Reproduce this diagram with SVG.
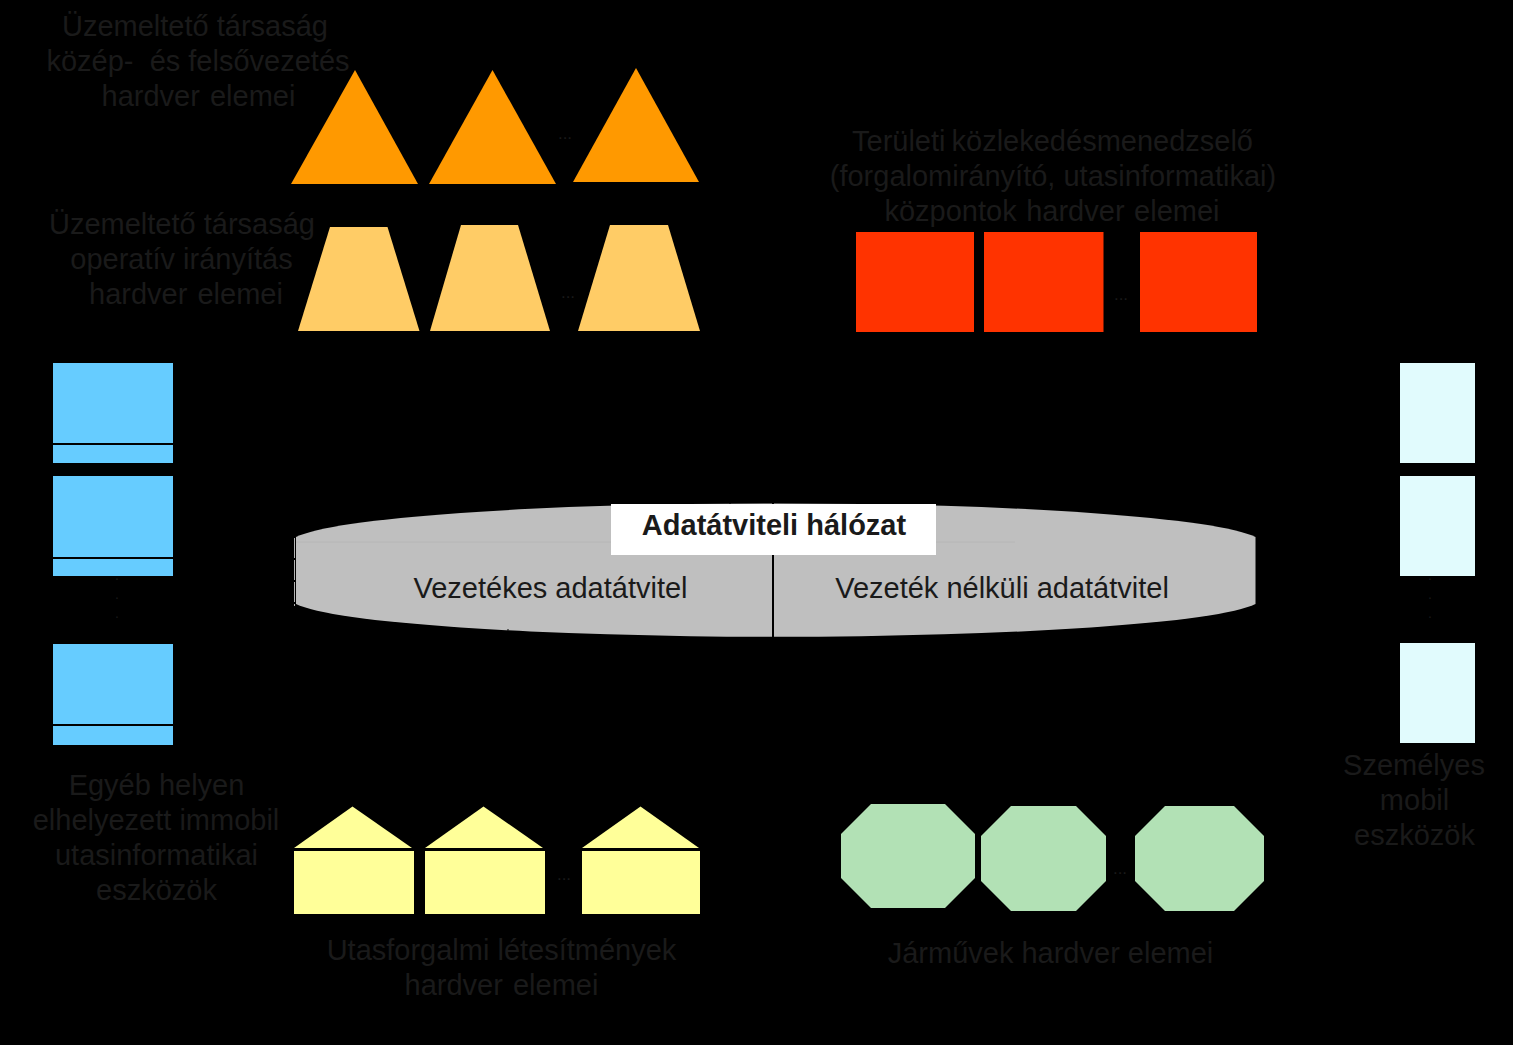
<svg xmlns="http://www.w3.org/2000/svg" width="1513" height="1045" viewBox="0 0 1513 1045">
<style>
text{font-family:"Liberation Sans",Arial,sans-serif;fill:#1a1a1a}
.l{font-size:29px;text-anchor:middle;white-space:pre}
.w{word-spacing:2px}
.d{font-size:17px;text-anchor:middle}
.v{font-size:14px;text-anchor:middle}
.tri{fill:#f90}.trap{fill:#fc6}.red{fill:#f30}.blue{fill:#6cf}.cyan{fill:#e1fbfd}.yel{fill:#ff9}.oct{fill:#b2e1b5}
.sep{stroke:#000;stroke-width:2;fill:none}
</style>
<rect width="1513" height="1045" fill="#000"/>
<g id="label-mgmt"><text class="l" x="195" y="36">Üzemeltető társaság</text><text class="l" x="198" y="71">közép-  és felsővezetés</text><text class="l w" x="198.500" y="106">hardver elemei</text></g>
<g id="label-ops"><text class="l" x="182" y="234">Üzemeltető társaság</text><text class="l" x="181.500" y="269">operatív irányítás</text><text class="l w" x="186" y="304">hardver elemei</text></g>
<g id="label-center"><text class="l" x="1052.500" y="151" style="word-spacing:-2px">Területi közlekedésmenedzselő</text><text class="l" x="1053" y="186">(forgalomirányító, utasinformatikai)</text><text class="l" x="1052" y="221" style="word-spacing:1.500px">központok hardver elemei</text></g>
<g id="label-other"><text class="l" x="156.500" y="795">Egyéb helyen</text><text class="l" x="156" y="830">elhelyezett immobil</text><text class="l" x="156.500" y="865">utasinformatikai</text><text class="l" x="156.500" y="900">eszközök</text></g>
<g id="label-personal"><text class="l" x="1414" y="775">Személyes</text><text class="l" x="1414.500" y="810">mobil</text><text class="l" x="1414.500" y="845">eszközök</text></g>
<g id="label-station"><text class="l" x="501.500" y="960">Utasforgalmi létesítmények</text><text class="l w" x="501.500" y="995">hardver elemei</text></g>
<g id="label-vehicle"><text class="l" x="1050.500" y="963">Járművek hardver elemei</text></g>

<g id="mgmt-1"><polygon class="tri" points="355,70 418,184 291,184"/></g>
<g id="mgmt-2"><polygon class="tri" points="492.500,70 556,184 429,184"/></g>
<g id="mgmt-dots"><text class="d" x="565" y="138.500">...</text></g>
<g id="mgmt-3"><polygon class="tri" points="636,68 699,182 573,182"/></g>

<g id="ops-1"><polygon class="trap" points="330,227 387.500,227 419.500,331 298,331"/></g>
<g id="ops-2"><polygon class="trap" points="461,225 518,225 550,331 430,331"/></g>
<g id="ops-dots"><text class="d" x="568" y="297.500">...</text></g>
<g id="ops-3"><polygon class="trap" points="610,225 668,225 700,331 578,331"/></g>

<g id="center-1"><rect class="red" x="856" y="232" width="118" height="100"/></g>
<g id="center-2"><rect class="red" x="984" y="232" width="119.500" height="100"/></g>
<g id="center-dots"><text class="d" x="1121" y="299.500">...</text></g>
<g id="center-3"><rect class="red" x="1140" y="232" width="117" height="100"/></g>

<g id="other-1"><rect class="blue" x="53" y="363" width="120" height="80"/><rect class="blue" x="53" y="445" width="120" height="18"/></g>
<g id="other-2"><rect class="blue" x="53" y="476" width="120" height="81"/><rect class="blue" x="53" y="559" width="120" height="17"/></g>
<g id="other-dots"><text class="v" x="117" y="580">.</text><text class="v" x="117" y="599">.</text><text class="v" x="117" y="618">.</text></g>
<g id="other-3"><rect class="blue" x="53" y="644" width="120" height="80"/><rect class="blue" x="53" y="726" width="120" height="19"/></g>

<g id="personal-1"><rect class="cyan" x="1400" y="363" width="75" height="100"/></g>
<g id="personal-2"><rect class="cyan" x="1400" y="476" width="75" height="100"/></g>
<g id="personal-dots"><text class="v" x="1430" y="580">.</text><text class="v" x="1430" y="599">.</text><text class="v" x="1430" y="618">.</text></g>
<g id="personal-3"><rect class="cyan" x="1400" y="643" width="75" height="100"/></g>

<g id="network">
<path fill="#bfbfbf" d="M296,537 A486,40 0 0 1 1255.500,537 V604 A486,39 0 0 1 296,604 Z"/>
<path d="M296,542 H611 M936,542 H1015" stroke="#b6b6b6" stroke-width="1" fill="none"/>
<path d="M294.500,538 V606" stroke="#b4b4b4" stroke-width="1" stroke-dasharray="20,2" fill="none"/>
<path d="M423,513 v2 M730,502 v2 M508,629 v2" stroke="#000" stroke-width="1" fill="none"/>
<rect x="611" y="504" width="325" height="51" fill="#fff"/>
<text x="774" y="535" text-anchor="middle" font-size="29" font-weight="700">Adatátviteli hálózat</text>
<text class="l" x="550.500" y="598">Vezetékes adatátvitel</text>
<text class="l" x="1002" y="598">Vezeték nélküli adatátvitel</text>
</g>
<g id="connectors"><path class="sep" d="M773,555 V638 M773,502 V504"/></g>

<g id="station-1"><polygon class="yel" points="352.500,806.500 412,848 294,848"/><rect class="yel" x="294" y="851" width="120" height="63"/></g>
<g id="station-2"><polygon class="yel" points="483.500,806.500 543,848 425,848"/><rect class="yel" x="425" y="851" width="120" height="63"/></g>
<g id="station-dots"><text class="d" x="564" y="879.500">...</text></g>
<g id="station-3"><polygon class="yel" points="640.500,806.500 699,848 582,848"/><rect class="yel" x="582" y="851" width="118" height="63"/></g>

<g id="vehicle-1"><polygon class="oct" points="871,804 945,804 975,834 975,878 945,908 871,908 841,878 841,834"/></g>
<g id="vehicle-2"><polygon class="oct" points="1011,806 1076,806 1106,836 1106,881 1076,911 1011,911 981,881 981,836"/></g>
<g id="vehicle-dots"><text class="d" x="1120" y="873.500">...</text></g>
<g id="vehicle-3"><polygon class="oct" points="1165,806 1234,806 1264,836 1264,881 1234,911 1165,911 1135,881 1135,836"/></g>
</svg>
